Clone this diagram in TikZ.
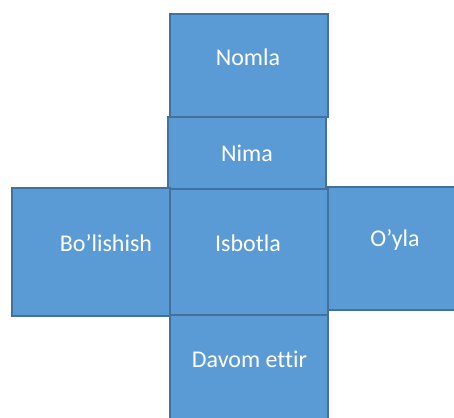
\documentclass[tikz,border=0pt]{standalone}
\usepackage{fontspec}
\setmainfont[Ligatures=NoCommon]{Carlito}
\definecolor{boxfill}{HTML}{5B9BD5}
\definecolor{boxedge}{HTML}{41719C}
\tikzset{
  box/.style={draw=boxedge, fill=boxfill, line width=2pt, inner sep=0pt},
  word/.style={text=white, font=\fontsize{24}{28}\selectfont, inner sep=0pt}
}
\begin{document}
\begin{tikzpicture}[x=1pt, y=-1pt]
\useasboundingbox (0,0) rectangle (454,417);
\clip (0,0) rectangle (454,417);
% Draw boxes
\node[box, minimum width=158pt, minimum height=103pt] (nomla) at (249,65.5) {};
\node[box, minimum width=158pt, minimum height=72pt] (nima) at (247,153) {};
\node[box, minimum width=158pt, minimum height=128pt] (bolishish) at (91,252) {};
\node[box, minimum width=150pt, minimum height=123pt] (oyla) at (403,248.5) {};
\node[box, minimum width=158pt, minimum height=126pt] (isbotla) at (249,252) {};
\node[box, minimum width=158pt, minimum height=120pt] (davom) at (249,375) {};
% Draw labels
\node[word] (nomlaT) at (248,57) {Nomla};
\node[word] (nimaT) at (247,153) {Nima};
\node[word] (bolishishT) at (106,243) {Bo’lishish};
\node[word] (isbotlaT) at (248,243) {Isbotla};
\node[word] (oylaT) at (395,240) {O’yla};
\node[word] (davomT) at (249.5,359) {Davom ettir};
\end{tikzpicture}
\end{document}
